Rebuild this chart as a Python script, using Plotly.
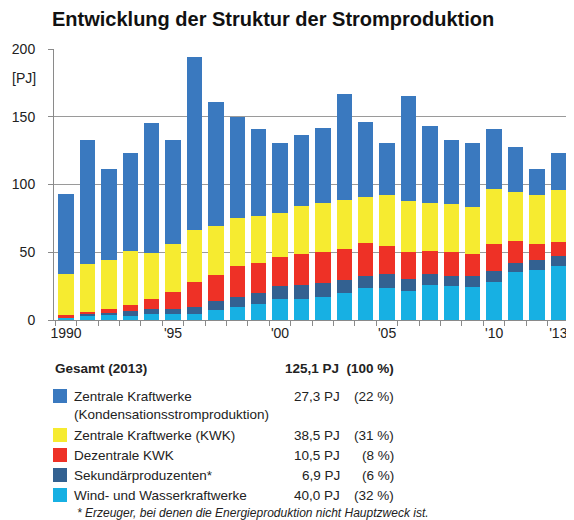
import plotly.graph_objects as go

years = list(range(1990, 2014))
tick_positions = [0, 5, 10, 15, 20, 23]
tick_labels = ["1990", "'95", "'00", "'05", "'10", "'13"]

wind = [1.5, 3.0, 3.4, 3.0, 4.4, 4.4, 4.4, 7.4, 9.9, 11.8, 15.3, 15.3, 17.2, 19.7, 23.4, 23.4, 21.7, 26.1, 25.1, 24.4, 27.8, 35.2, 36.9, 40.0]
sek = [0.5, 1.4, 2.0, 3.4, 4.0, 4.0, 5.5, 6.4, 7.3, 7.9, 9.8, 10.8, 9.9, 10.1, 9.1, 10.8, 8.8, 8.1, 7.4, 8.1, 8.4, 7.2, 7.4, 6.9]
dez = [1.4, 1.8, 3.0, 4.4, 7.1, 12.3, 18.2, 19.7, 22.5, 22.7, 21.7, 22.4, 23.4, 22.4, 24.4, 20.7, 20.0, 17.0, 18.0, 16.0, 19.7, 16.2, 11.6, 10.5]
zkwk = [30.8, 35.2, 35.7, 40.4, 33.8, 35.2, 38.4, 35.7, 35.7, 34.7, 32.0, 36.0, 35.7, 36.7, 33.7, 37.7, 37.4, 35.0, 35.0, 35.0, 41.1, 35.7, 36.7, 38.5]
zkond = [59.1, 91.6, 67.2, 72.0, 96.0, 77.1, 127.5, 91.6, 74.1, 63.8, 51.5, 52.0, 55.4, 78.1, 55.7, 38.4, 77.1, 56.7, 47.5, 47.5, 43.9, 33.3, 18.7, 27.3]

series_names = ["Wind- und Wasserkraftwerke", "Sekundärproduzenten*", "Dezentrale KWK",
                "Zentrale Kraftwerke (KWK)", "Zentrale Kraftwerke"]
series_values = [wind, sek, dez, zkwk, zkond]
colors = ["#17b0e3", "#336191", "#ee3126", "#f6eb30", "#3a79bf"]

legend_names = ["Zentrale Kraftwerke<br>(Kondensationsstromproduktion)", "Zentrale Kraftwerke (KWK)",
                "Dezentrale KWK", "Sekundärproduzenten*", "Wind- und Wasserkraftwerke"]
legend_colors = ["#3a79bf", "#f6eb30", "#ee3126", "#336191", "#17b0e3"]
legend_pj = ["27,3 PJ", "38,5 PJ", "10,5 PJ", "6,9 PJ", "40,0 PJ"]
legend_pct = ["(22 %)", "(31 %)", "(8 %)", "(6 %)", "(32 %)"]
total_label = "125,1 PJ  (100 %)"

FONT = "Liberation Sans, Arial, sans-serif"
TXT = "#222222"

fig = go.Figure()
xs = list(range(len(years)))
for name, vals, col in zip(series_names, series_values, colors):
    fig.add_trace(go.Bar(x=xs, y=vals, name=name, marker=dict(color=col, line=dict(width=0)),
                         showlegend=False))

OFF = 8  # page body margin
W, H = 574 - OFF, 520 - OFF
L, R, T = 54 - OFF, 5, 49 - OFF
B = H - (320 - OFF)
pw = W - L - R
ph = H - T - B

def xp(px):
    return (px - OFF - L) / pw

def yp(py):
    return (H - B - (py - OFF)) / ph

annotations = []
shapes = []

annotations.append(dict(text="<b>Entwicklung der Struktur der Stromproduktion</b>", xref="paper", yref="paper",
                        x=xp(50), y=yp(19), xanchor="left", yanchor="middle", showarrow=False,
                        font=dict(size=20, color="#111111", family=FONT)))
annotations.append(dict(text="[PJ]", xref="paper", yref="paper", x=xp(38), y=yp(78),
                        xanchor="right", yanchor="middle", showarrow=False,
                        font=dict(size=14, color=TXT, family=FONT)))

annotations.append(dict(text="<b>Gesamt (2013)</b>", xref="paper", yref="paper", x=xp(53), y=yp(368),
                        xanchor="left", yanchor="middle", showarrow=False,
                        font=dict(size=13.5, color=TXT, family=FONT)))
annotations.append(dict(text="<b>" + total_label + "</b>", xref="paper", yref="paper", x=xp(396), y=yp(368),
                        xanchor="right", yanchor="middle", showarrow=False,
                        font=dict(size=13.5, color=TXT, family=FONT)))

row_y = [396, 435, 455, 475, 495]
for i, (nm, col, pj, pct) in enumerate(zip(legend_names, legend_colors, legend_pj, legend_pct)):
    cy = row_y[i]
    shapes.append(dict(type="rect", xref="paper", yref="paper", x0=xp(53), x1=xp(67),
                       y0=yp(cy + 7), y1=yp(cy - 7), fillcolor=col, line=dict(width=0)))
    if i == 0:
        annotations.append(dict(text=nm, xref="paper", yref="paper", x=xp(72), y=yp(cy - 9),
                                xanchor="left", yanchor="top", align="left", showarrow=False,
                                font=dict(size=13.5, color=TXT, family=FONT)))
    else:
        annotations.append(dict(text=nm, xref="paper", yref="paper", x=xp(72), y=yp(cy),
                                xanchor="left", yanchor="middle", showarrow=False,
                                font=dict(size=13.5, color=TXT, family=FONT)))
    annotations.append(dict(text=pj, xref="paper", yref="paper", x=xp(342), y=yp(cy),
                            xanchor="right", yanchor="middle", showarrow=False,
                            font=dict(size=13.5, color=TXT, family=FONT)))
    annotations.append(dict(text=pct, xref="paper", yref="paper", x=xp(396), y=yp(cy),
                            xanchor="right", yanchor="middle", showarrow=False,
                            font=dict(size=13.5, color=TXT, family=FONT)))

annotations.append(dict(text="<i>* Erzeuger, bei denen die Energieproduktion nicht Hauptzweck ist.</i>",
                        xref="paper", yref="paper", x=xp(75), y=yp(513), xanchor="left", yanchor="middle",
                        showarrow=False, font=dict(size=12, color=TXT, family=FONT)))

fig.update_layout(
    width=W, height=H,
    margin=dict(l=L, r=R, t=T, b=B),
    paper_bgcolor="white", plot_bgcolor="white",
    barmode="stack", bargap=0.28,
    font=dict(family=FONT, size=14, color=TXT),
    annotations=annotations, shapes=shapes,
    xaxis=dict(range=[-0.56, 23.5], tickvals=tick_positions, ticktext=tick_labels,
               ticks="", showgrid=False, showline=True, linecolor="#8a8a8a", linewidth=1,
               tickfont=dict(size=14, color=TXT), zeroline=False,
               minor=dict(ticks="outside", tick0=-0.5, dtick=1, ticklen=5, tickcolor="#8a8a8a",
                          showgrid=False)),
    yaxis=dict(range=[0, 200], tickvals=[0, 50, 100, 150, 200], showgrid=True, gridcolor="#9a9a9a",
               gridwidth=1, showline=True, linecolor="#8a8a8a", ticks="outside", ticklen=5,
               tickcolor="#8a8a8a", zeroline=False, tickfont=dict(size=14, color=TXT),
               ticklabelstandoff=10),
)

fig.write_html("out.html")
